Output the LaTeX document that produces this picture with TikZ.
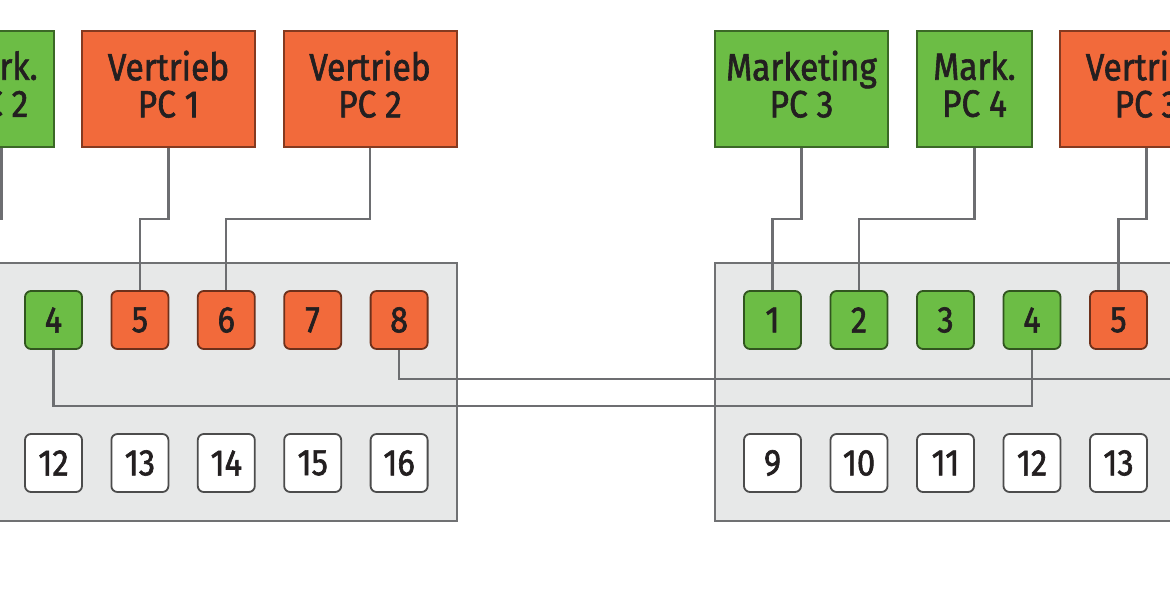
\documentclass[tikz,border=0pt]{standalone}
\usepackage{fontspec}
\setmainfont[FakeStretch=0.88, FakeBold=1.6]{Fira Sans}
\definecolor{orangeF}{HTML}{F26A3B}
\definecolor{greenF}{HTML}{6CBD45}
\definecolor{swfill}{HTML}{E7E8E8}
\definecolor{swline}{HTML}{707173}
\definecolor{wirec}{HTML}{6D6E71}
\definecolor{txt}{HTML}{231F20}
\begin{document}
\begin{tikzpicture}[x=1pt,y=-1pt,
  pcbox/.style={draw=#1!55!black, fill=#1, line width=2pt, minimum height=116pt, minimum width=173pt, inner sep=0pt, align=center, text=txt, text depth=10pt, font=\fontsize{38}{37}\selectfont},
  port/.style={draw=#1!45!black, fill=#1, line width=1.8pt, rounded corners=6pt, minimum width=57pt, minimum height=58pt, inner sep=0pt, text=txt, font=\fontsize{37}{37}\selectfont},
  freeport/.style={draw=black!70, fill=white, line width=1.8pt, rounded corners=6pt, minimum width=57pt, minimum height=58pt, inner sep=0pt, text=txt, font=\fontsize{37}{37}\selectfont},
  switchbox/.style={draw=swline, fill=swfill, line width=2pt, minimum height=258pt, inner sep=0pt},
  wire/.style={draw=wirec, line width=2.3pt}]
\useasboundingbox (0,0) rectangle (1170,610);
\clip (0,0) rectangle (1170,610);
\fill[white] (0,0) rectangle (1170,610);
% switches
\node[switchbox, minimum width=757pt] (swL) at (78.5,392) {};
\node[switchbox, minimum width=755pt] (swR) at (1092.5,392) {};
% PCs
\node[pcbox=greenF, minimum width=115pt] (m2) at (-3.5,89) {Mark.\\PC 2};
\node[pcbox=orangeF] (v1) at (168.5,89) {Vertrieb\\PC 1};
\node[pcbox=orangeF] (v2) at (370,89) {Vertrieb\\PC 2};
\node[pcbox=greenF] (m3) at (801.5,89) {Marketing\\PC 3};
\node[pcbox=greenF, minimum width=115pt] (m4) at (974.5,89) {Mark.\\PC 4};
\node[pcbox=orangeF] (v3) at (1146.5,89) {Vertrieb\\PC 3};
% ports left switch
\foreach \n in {1,...,4} \node[port=greenF] (L\n) at ({53.5+(\n-4)*86.4},320) {\n};
\foreach \n in {5,...,8} \node[port=orangeF] (L\n) at ({53.5+(\n-4)*86.4},320) {\n};
\foreach \n in {9,...,16} \node[freeport] (L\n) at ({53.5+(\n-12)*86.4},463) {\n};
% ports right switch
\foreach \n in {1,...,4} \node[port=greenF] (R\n) at ({772.5+(\n-1)*86.5},320) {\n};
\foreach \n in {5,...,8} \node[port=orangeF] (R\n) at ({772.5+(\n-1)*86.5},320) {\n};
\foreach \n in {9,...,16} \node[freeport] (R\n) at ({772.5+(\n-9)*86.5},463) {\n};
% wires
\draw[wire] ([xshift=5pt]m2.south) -- ++(0,71) -| (L2.north);
\draw[wire] (v1.south) -- ++(0,71) -| (L5.north);
\draw[wire] (v2.south) -- ++(0,71) -| (L6.north);
\draw[wire] (m3.south) -- ++(0,71) -| (R1.north);
\draw[wire] (m4.south) -- ++(0,71) -| (R2.north);
\draw[wire] (v3.south) -- ++(0,71) -| (R5.north);
\draw[wire] (L8.south) -- ++(0,29) -| (R8.south);
\draw[wire] (L4.south) -- ++(0,56) -| (R4.south);
\end{tikzpicture}
\end{document}
